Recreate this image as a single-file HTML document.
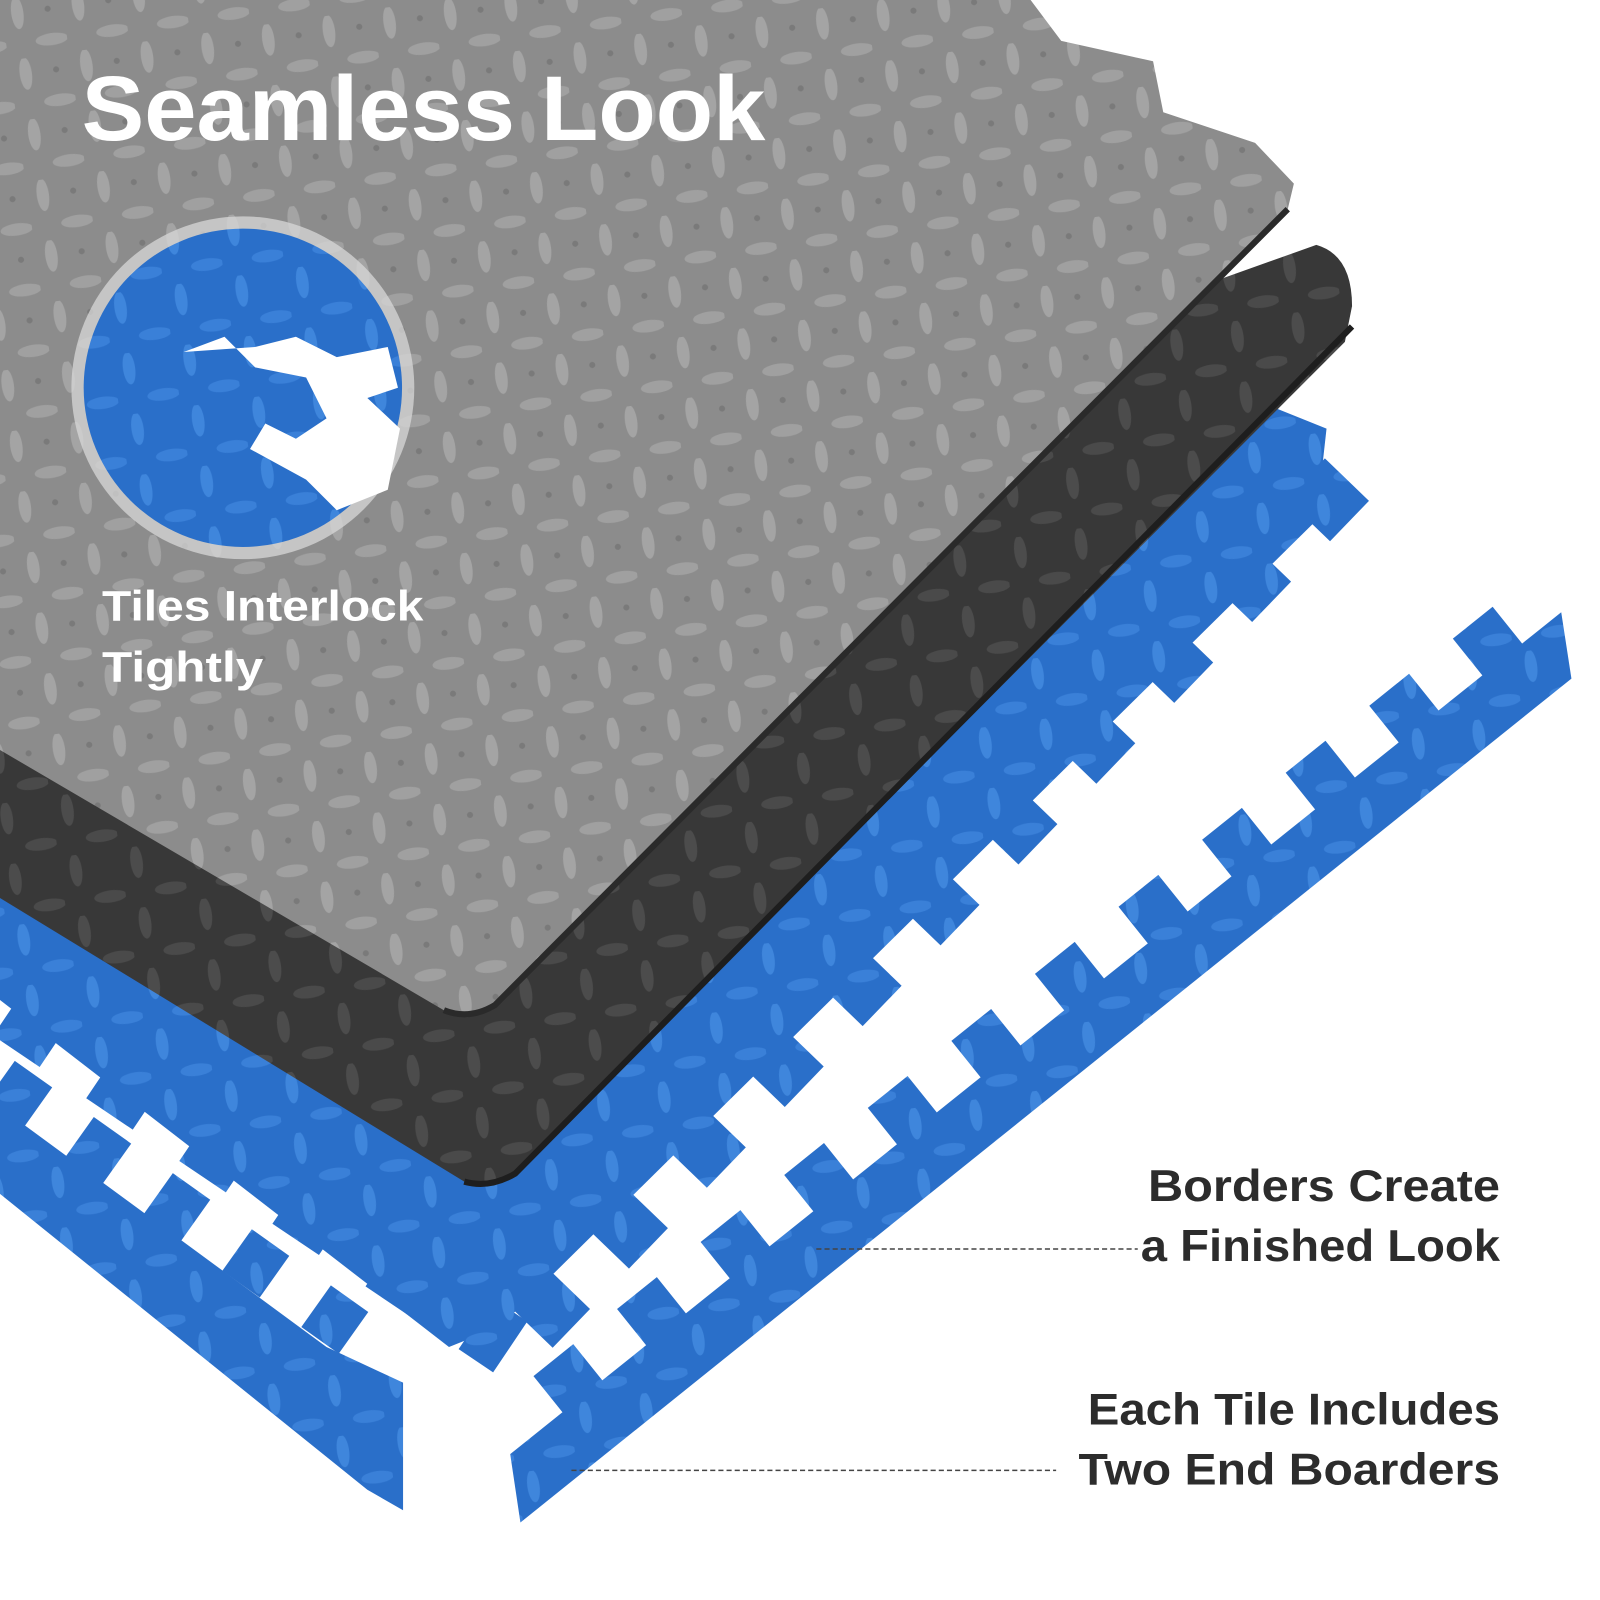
<!DOCTYPE html>
<html><head><meta charset="utf-8"><style>
html,body{margin:0;padding:0;background:#fff;width:1600px;height:1600px;overflow:hidden}
svg{display:block}
</style></head><body>
<svg width="1600" height="1600" viewBox="0 0 1568 1568" xmlns="http://www.w3.org/2000/svg">
<defs>
<pattern id="pg" width="60" height="60" patternUnits="userSpaceOnUse" patternTransform="rotate(-8)">
<rect width="60" height="60" fill="#8c8c8c"/>
<ellipse cx="15" cy="15" rx="6" ry="16" fill="#a4a4a4"/>
<ellipse cx="45" cy="45" rx="16" ry="6" fill="#a0a0a0"/>
<ellipse cx="45" cy="15" rx="3" ry="3" fill="#7a7a7a"/>
</pattern>
<pattern id="pd" width="60" height="60" patternUnits="userSpaceOnUse" patternTransform="rotate(-8)">
<rect width="60" height="60" fill="#383838"/>
<ellipse cx="15" cy="15" rx="6" ry="16" fill="#4c4c4c"/>
<ellipse cx="45" cy="45" rx="16" ry="6" fill="#4a4a4a"/>
</pattern>
<pattern id="pb" width="60" height="60" patternUnits="userSpaceOnUse" patternTransform="rotate(-8)">
<rect width="60" height="60" fill="#2a6fc9"/>
<ellipse cx="15" cy="15" rx="6" ry="16" fill="#3f86dc"/>
<ellipse cx="45" cy="45" rx="16" ry="6" fill="#3a80d8"/>
</pattern>
</defs>
<rect width="1568" height="1568" fill="#fff"/>

<!-- border strip left -->
<line x1="0" y1="1060" x2="380" y2="1330" stroke="url(#pb)" stroke-width="50" stroke-dasharray="45 50"/>
<polygon points="0,1085 320,1320 395,1355 395,1480 360,1460 0,1170" fill="url(#pb)"/>

<!-- border strip right -->
<line x1="540" y1="1370" x2="1500" y2="600" stroke="url(#pb)" stroke-width="55" stroke-dasharray="50 55"/>
<polygon points="500,1425 1530,600 1540,665 510,1492" fill="url(#pb)"/>

<!-- blue tile -->
<line x1="1320" y1="470" x2="520" y2="1300" stroke="url(#pb)" stroke-width="60" stroke-dasharray="55 55"/>
<line x1="10" y1="990" x2="500" y2="1320" stroke="url(#pb)" stroke-width="60" stroke-dasharray="55 55"/>
<polygon points="0,850 1250,400 1300,420 1290,510 490,1300 440,1320 0,980" fill="url(#pb)"/>

<!-- dark mat -->
<path d="M0,700 L1290,240 Q1325,250 1325,300 L1318,335 L505,1150 Q480,1165 455,1158 L0,880 Z" fill="url(#pd)"/>
<path d="M1325,320 L505,1150 Q480,1165 455,1158" fill="none" stroke="#1e1e1e" stroke-width="6"/>

<!-- gray mat -->
<path d="M0,0 L1010,0 L1040,40 L1130,60 L1140,110 L1230,140 L1268,180 L1262,205 L485,985 Q460,1000 435,990 L0,735 Z" fill="url(#pg)"/>
<path d="M1262,205 L485,985 Q460,1000 435,990" fill="none" stroke="#2a2a2a" stroke-width="6"/>

<!-- circle inset -->
<circle cx="238" cy="380" r="168" fill="#d8d8d8" opacity="0.75"/>
<circle cx="238" cy="380" r="156" fill="url(#pb)"/>
<path d="M180,345 L220,330 L250,360 L300,370 L320,410 L290,430 L260,415 L245,440 L300,470 L330,500 L380,480 L392,420 L360,390 L390,380 L380,340 L330,350 L290,330 L250,340 Z" fill="#fff"/>

<text x="80" y="137" textLength="670" lengthAdjust="spacingAndGlyphs" font-family="Liberation Sans, sans-serif" font-weight="bold" font-size="90" fill="#fff">Seamless Look</text>
<text x="100" y="608" textLength="315" lengthAdjust="spacingAndGlyphs" font-family="Liberation Sans, sans-serif" font-weight="bold" font-size="42" fill="#fff">Tiles Interlock</text>
<text x="100" y="668" textLength="158" lengthAdjust="spacingAndGlyphs" font-family="Liberation Sans, sans-serif" font-weight="bold" font-size="42" fill="#fff">Tightly</text>

<g font-family="Liberation Sans, sans-serif" font-weight="bold" font-size="44" fill="#2c2c2c">
<text x="1125" y="1177" textLength="345" lengthAdjust="spacingAndGlyphs">Borders Create</text>
<text x="1118" y="1236" textLength="352" lengthAdjust="spacingAndGlyphs">a Finished Look</text>
<text x="1066" y="1396" textLength="404" lengthAdjust="spacingAndGlyphs">Each Tile Includes</text>
<text x="1057" y="1455" textLength="413" lengthAdjust="spacingAndGlyphs">Two End Boarders</text>
</g>
<line x1="800" y1="1224" x2="1115" y2="1224" stroke="#444" stroke-width="1.5" stroke-dasharray="5 3"/>
<line x1="560" y1="1441" x2="1035" y2="1441" stroke="#444" stroke-width="1.5" stroke-dasharray="5 3"/>
</svg>
</body></html>
